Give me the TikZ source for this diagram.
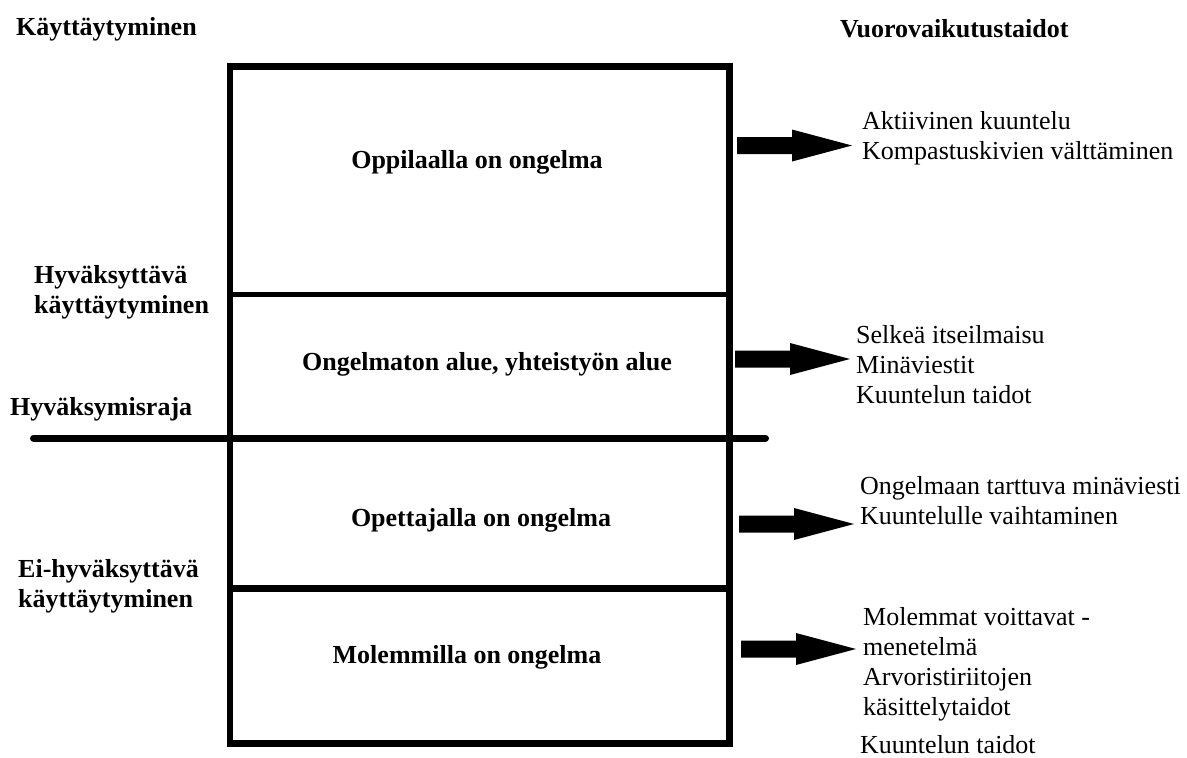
\documentclass[tikz,border=0pt]{standalone}
\usepackage{fontspec}
\setmainfont{Liberation Serif}

\tikzset{
  txt/.style={inner sep=0pt, anchor=base west, align=left, font=\fontsize{26}{30}\selectfont},
  btxt/.style={txt, font=\fontsize{26}{30}\selectfont\bfseries},
  ctxt/.style={btxt, anchor=base, align=center},
}
% paksu nuoli (varsi + karki)
\newcommand{\blockarrow}[1]{%
  \fill (#1) ++(0,-8.5) -- ++(55,0) -- ++(0,-7.5) -- ++(60,16) -- ++(-60,16) -- ++(0,-7.5) -- ++(-55,0) -- cycle;}

\begin{document}
\begin{tikzpicture}[x=1pt,y=-1pt]
        \useasboundingbox (0,0) rectangle (1187,758);
        % laatikko ja jakoviivat
        \draw[line width=6.5pt] (230,66.5) rectangle (729.5,743.5);
        \draw[line width=4.5pt] (230,294.5) -- (733,294.5);
        \draw[line width=7pt] (230,588) -- (729.5,588);
        % hyvaksymisraja
        \draw[line width=7pt, line cap=round] (33.5,438) -- (765.5,438);

        % otsikot (monirivisissa base = viimeinen rivi)
        \node[btxt] (kayt) at (16,35) {Käyttäytyminen};
        \node[btxt] (vuoro) at (840,37) {Vuorovaikutustaidot};
        \node[btxt] (hyv) at (34,313) {Hyväksyttävä\\käyttäytyminen};
        \node[btxt] (raja) at (10,415) {Hyväksymisraja};
        \node[btxt] (eihyv) at (18,607) {Ei-hyväksyttävä\\käyttäytyminen};

        % alueet
        \node[ctxt] (opp) at (477,168) {Oppilaalla on ongelma};
        \node[ctxt] (ong) at (487,370) {Ongelmaton alue, yhteistyön alue};
        \node[ctxt] (ope) at (481,526) {Opettajalla on ongelma};
        \node[ctxt] (mol) at (467,663) {Molemmilla on ongelma};

        % taidot
        \node[txt] (t1) at (862,159) {Aktiivinen kuuntelu\\Kompastuskivien välttäminen};
        \node[txt] (t2) at (856,403) {Selkeä itseilmaisu\\Minäviestit\\Kuuntelun taidot};
        \node[txt] (t3) at (860,524) {Ongelmaan tarttuva minäviesti\\Kuuntelulle vaihtaminen};
        \node[txt] (t4) at (863,715) {Molemmat voittavat -\\menetelmä\\Arvoristiriitojen\\käsittelytaidot};
        \node[txt] (t5) at (860,753) {Kuuntelun taidot};

        % nuolet
        \coordinate (a1) at (737,145.5);
        \coordinate (a2) at (735,359);
        \coordinate (a3) at (739,524);
        \coordinate (a4) at (741,649);
        \blockarrow{a1}
        \blockarrow{a2}
        \blockarrow{a3}
        \blockarrow{a4}
\end{tikzpicture}
\end{document}
